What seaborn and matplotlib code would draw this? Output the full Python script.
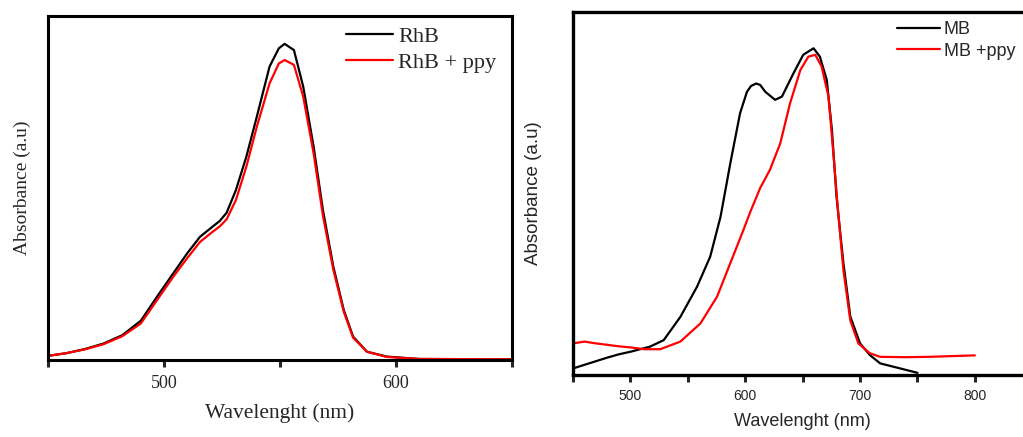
import numpy as np
import pandas as pd
import seaborn as sns
import matplotlib.pyplot as plt
from matplotlib.ticker import FixedLocator, FixedFormatter

# RhB spectra (left panel), arbitrary absorbance units
rhb_wl = [450, 458, 466, 474, 482, 490, 497, 504, 510, 515.5, 521, 524, 527, 531, 535.5, 540, 545.5,
          549.5, 552, 556, 560, 564.5, 568.5, 573, 577.5, 581.5, 587.5, 596, 610, 650]
rhb_abs = [0.012, 0.02, 0.032, 0.048, 0.072, 0.114, 0.184, 0.252, 0.31, 0.358, 0.388, 0.404, 0.428, 0.494,
           0.591, 0.707, 0.853, 0.906, 0.919, 0.901, 0.795, 0.62, 0.436, 0.271, 0.145, 0.068, 0.024, 0.01,
           0.003, 0.002]
rhb_ppy_abs = [0.012, 0.02, 0.031, 0.046, 0.069, 0.106, 0.174, 0.242, 0.296, 0.343, 0.373, 0.388, 0.409,
               0.465, 0.562, 0.678, 0.804, 0.862, 0.872, 0.858, 0.766, 0.60, 0.42, 0.262, 0.14, 0.065,
               0.024, 0.009, 0.003, 0.002]

# MB spectra (right panel)
mb_wl = [450, 460, 470, 480, 490, 500, 517, 529, 543.5, 558, 569.5, 578.5, 587, 595.5, 601.5, 605, 609.5,
         613, 617.5, 626, 632, 642, 650.5, 659.5, 665, 671, 675.5, 679.5, 685.5, 691.5, 700, 708.5, 717.5,
         730, 740, 750]
mb_abs = [0.018, 0.028, 0.038, 0.048, 0.057, 0.064, 0.078, 0.096, 0.16, 0.243, 0.326, 0.436, 0.583, 0.721,
          0.78, 0.796, 0.803, 0.799, 0.78, 0.758, 0.767, 0.831, 0.882, 0.90, 0.877, 0.813, 0.675, 0.491,
          0.308, 0.161, 0.087, 0.055, 0.032, 0.022, 0.014, 0.006]

mb_ppy_wl = [450, 460, 470, 480, 490, 500, 512, 526, 543.5, 561, 575.5, 587, 598.5, 604.5, 613, 621.5,
             630.5, 639, 648, 655, 661, 666.5, 672.5, 677, 681, 685.5, 691.5, 698.5, 708.5, 717.5, 740, 760,
             780, 800]
mb_ppy_abs = [0.087, 0.092, 0.087, 0.083, 0.079, 0.076, 0.071, 0.071, 0.092, 0.142, 0.216, 0.308, 0.40,
              0.45, 0.515, 0.565, 0.638, 0.748, 0.84, 0.877, 0.882, 0.85, 0.767, 0.601, 0.445, 0.289, 0.15,
              0.087, 0.06, 0.05, 0.049, 0.05, 0.052, 0.054]

sns.set_style("white")

fig = plt.figure(figsize=(10.23, 4.37), dpi=100)

# ---- left panel: RhB (serif) ----
serif = ["Liberation Serif", "DejaVu Serif"]
ax1 = fig.add_axes([0.0469, 0.1762, 0.4536, 0.7872])
sns.lineplot(x=rhb_wl, y=rhb_abs, ax=ax1, color="black", lw=1.6, label="RhB")
sns.lineplot(x=rhb_wl, y=rhb_ppy_abs, ax=ax1, color="red", lw=1.6, label="RhB + ppy")
ax1.set_xlim(450, 650)
ax1.set_ylim(0, 1)
ax1.set_yticks([])
ax1.xaxis.set_major_locator(FixedLocator([450, 500, 550, 600, 650]))
ax1.xaxis.set_major_formatter(FixedFormatter(["", "500", "", "600", ""]))
ax1.tick_params(axis="x", bottom=True, direction="out", length=5, width=2.2, labelsize=13, pad=6)
for lab in ax1.get_xticklabels():
    lab.set_family(serif)
ax1.set_xlabel("Wavelenght (nm)", fontsize=15.5, family=serif, labelpad=8)
ax1.set_ylabel("Absorbance (a.u)", fontsize=14, family=serif, labelpad=12)
for s in ax1.spines.values():
    s.set_linewidth(2.2)
    s.set_color("black")
ax1.legend(loc="upper left", bbox_to_anchor=(0.642, 0.97), frameon=False, borderpad=0, borderaxespad=0,
           handlelength=2.1, handletextpad=0.25, labelspacing=0.25,
           prop={"family": serif, "size": 16})

# ---- right panel: MB (sans) ----
sans = ["Liberation Sans", "DejaVu Sans"]
ax2 = fig.add_axes([0.5601, 0.1419, 0.449, 0.8307])
sns.lineplot(x=mb_wl, y=mb_abs, ax=ax2, color="black", lw=1.6, label="MB")
sns.lineplot(x=mb_ppy_wl, y=mb_ppy_abs, ax=ax2, color="red", lw=1.6, label="MB +ppy")
ax2.set_xlim(450, 850)
ax2.set_ylim(0, 1)
ax2.set_yticks([])
ax2.xaxis.set_major_locator(FixedLocator([450, 500, 550, 600, 650, 700, 750, 800]))
ax2.xaxis.set_major_formatter(FixedFormatter(["", "500", "", "600", "", "700", "", "800"]))
ax2.tick_params(axis="x", bottom=True, direction="out", length=5, width=2.2, labelsize=10, pad=5)
for lab in ax2.get_xticklabels():
    lab.set_family(sans)
ax2.set_xlabel("Wavelenght (nm)", fontsize=13, family=sans, labelpad=7)
ax2.set_ylabel("Absorbance (a.u)", fontsize=13.5, family=sans, labelpad=22)
for s in ax2.spines.values():
    s.set_linewidth(2.4)
    s.set_color("black")
ax2.legend(loc="upper left", bbox_to_anchor=(0.705, 0.975), frameon=False, borderpad=0, borderaxespad=0,
           handlelength=2.4, handletextpad=0.2, labelspacing=0.25,
           prop={"family": sans, "size": 13})

fig.savefig("out.png", dpi=100)
